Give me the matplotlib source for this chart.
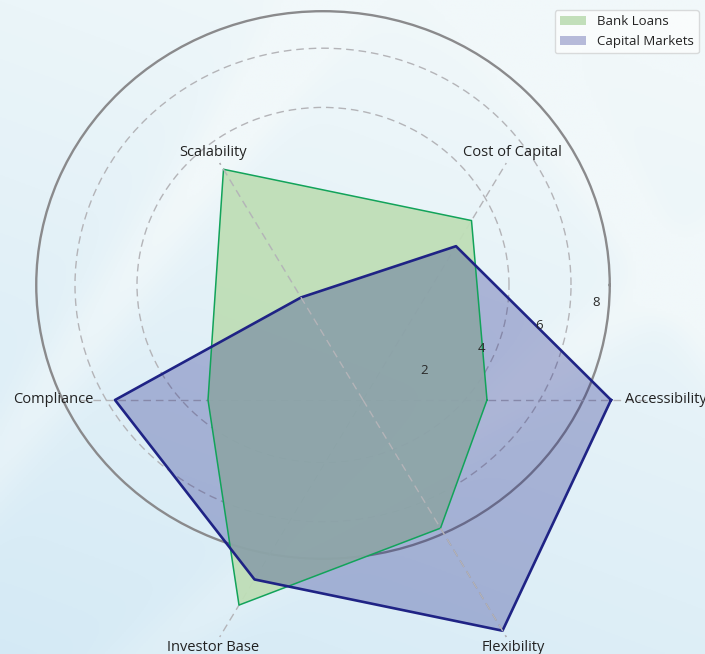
import numpy as np
import matplotlib
matplotlib.use("Agg")
import matplotlib.pyplot as plt

# ---------------- data ----------------
categories = ["Accessibility", "Cost of Capital", "Scalability",
              "Compliance", "Investor Base", "Flexibility"]
bank_loans = [4, 7, 9, 5, 8, 5]
capital_markets = [8, 6, 4, 8, 7, 9]
series_names = ["Bank Loans", "Capital Markets"]
r_ticks = [2, 4, 6, 8]
r_tick_labels = ["2", "4", "6", "8"]
ring_ticks = [6, 8]

# ---------------- layout ----------------
W, H = 705, 654
SX, SY = 31.0, 29.6          # px per unit (horizontal / vertical)
RMAX = 9.25
LABEL_R = [9.76, 9.65, 9.65, 10.0, 9.67, 9.67]
GRID_STYLE = dict(color='#b4b4b8', linestyle=(0, (5.5, 3.5)), linewidth=1.0)

plt.rcParams['font.family'] = ['Open Sans', 'DejaVu Sans']
fig = plt.figure(figsize=(W / 100, H / 100), dpi=100)

# background gradient
bg = fig.add_axes([0, 0, 1, 1], zorder=-10)
yy, xx = np.mgrid[0:1:300j, 0:1:300j]
t = np.clip(0.75 * yy + 0.3 * (1 - xx) - 0.1, 0, 1)
streak = (0.35 * np.exp(-((xx * 0.9 + yy * 0.6 - 0.42) / 0.05) ** 2)
          + 0.30 * np.exp(-((xx * 0.8 - yy * 0.5 - 0.55) / 0.04) ** 2)
          + 0.25 * np.exp(-((xx * 0.7 + yy * 0.9 - 1.05) / 0.05) ** 2))
t = np.clip(t - streak, 0, 1)
c0 = np.array([241, 248, 250]) / 255
c1 = np.array([211, 233, 245]) / 255
img = c0[None, None, :] * (1 - t[..., None]) + c1[None, None, :] * t[..., None]
bg.imshow(img, extent=[0, 1, 0, 1], aspect='auto', origin='upper')
bg.set_axis_off()


def polar_axes(cx, cy, z):
    rect = [(cx - RMAX * SX) / W, (H - cy - RMAX * SY) / H,
            2 * RMAX * SX / W, 2 * RMAX * SY / H]
    ax = fig.add_axes(rect, projection='polar', zorder=z)
    ax.set_aspect('auto')
    ax.set_facecolor('none')
    ax.set_ylim(0, RMAX)
    return ax


# ring axes (circles)
B = polar_axes(323, 285, 1)
B.set_xticks([])
B.set_yticks(ring_ticks)
B.set_yticklabels([])
B.tick_params(axis='y', length=0)
B.yaxis.grid(True, **GRID_STYLE)
B.spines['polar'].set_color('#8a8a8c')
B.spines['polar'].set_linewidth(1.7)
B.set_ylim(0, RMAX)

# data axes
A = polar_axes(363, 400, 2)
n = len(categories)
angles = np.linspace(0, 2 * np.pi, n, endpoint=False)
A.set_xticks(angles)
A.set_xticklabels([])
A.xaxis.grid(True, **GRID_STYLE)
A.set_yticks(r_ticks)
A.set_yticklabels([])
A.yaxis.grid(False)
A.spines['polar'].set_visible(False)
A.set_axisbelow(True)
A.set_ylim(0, RMAX)

th = np.append(angles, angles[0])
bl = bank_loans + bank_loans[:1]
cm = capital_markets + capital_markets[:1]

A.fill(th, bl, color='#bfdeb7', alpha=0.95, linewidth=0,
       label=series_names[0], zorder=1)
A.plot(th, bl, color='#12a35a', linewidth=1.1, zorder=2)
A.fill(th, cm, color='#1e2488', alpha=0.30, linewidth=0,
       label=series_names[1], zorder=1.1)
A.plot(th, cm, color='#1f2385', linewidth=1.9, zorder=2.1)

for cat, ang, lr in zip(categories, angles, LABEL_R):
    A.text(ang, lr, cat, ha='center', va='center', fontsize=10.5,
           color='#222222')

# overlay axes: radial tick labels and the diagonal guide on top
C = polar_axes(363, 400, 3)
C.set_xticks([angles[2], angles[5]])
C.set_xticklabels([])
C.xaxis.grid(True, **GRID_STYLE)
C.tick_params(axis='x', length=0)
C.set_yticks(r_ticks)
C.set_yticklabels(r_tick_labels, fontsize=9.5, color='#2a2a2a')
C.yaxis.grid(False)
C.spines['polar'].set_visible(False)
C.set_ylim(0, RMAX)

handles, labels = A.get_legend_handles_labels()
fig.legend(handles, labels,
           loc='upper right', bbox_to_anchor=(699 / W, 1 - 10 / H),
           fontsize=9.5, frameon=True, facecolor='white', framealpha=0.6,
           edgecolor='#c6c6c6', borderaxespad=0, labelcolor='#222222')

fig.savefig("out.png", dpi=100)
